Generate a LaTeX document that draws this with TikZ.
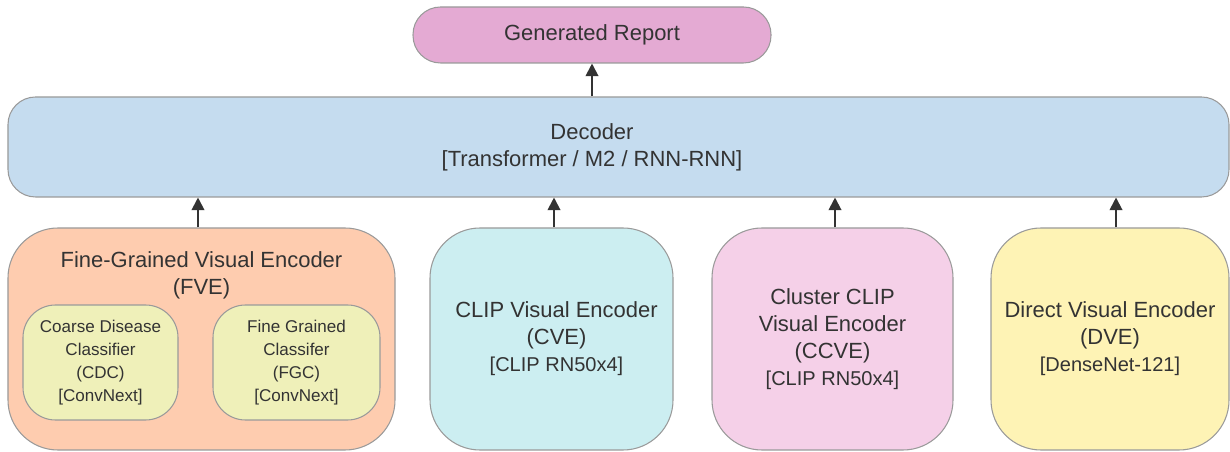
\documentclass[tikz,border=0pt]{standalone}
\usepackage{fontspec}
\setmainfont{Liberation Sans}
\usetikzlibrary{arrows.meta}

\definecolor{reportfill}{HTML}{E4AAD3}
\definecolor{decoderfill}{HTML}{C5DCEF}
\definecolor{fvefill}{HTML}{FECCAF}
\definecolor{subfill}{HTML}{EFF0B9}
\definecolor{cvefill}{HTML}{CCEEF1}
\definecolor{ccvefill}{HTML}{F5D0E8}
\definecolor{dvefill}{HTML}{FEF3B5}
\definecolor{edgegray}{HTML}{9A9A9A}
\definecolor{textgray}{HTML}{333333}

% backbone names are set a bit smaller
\newcommand{\backbone}[1]{{\fontsize{11.4}{15.4}\selectfont[#1]}}

\begin{document}
\begin{tikzpicture}[
	box/.style={draw=edgegray, line width=0.6pt, text=textgray, align=center,
		inner sep=0pt, font=\fontsize{12.5}{15.4}\selectfont},
	caption/.style={text=textgray, align=center, font=\fontsize{12.5}{15.4}\selectfont},
	encoder/.style={box, minimum height=4.44cm, rounded corners=1cm},
	subbox/.style={box, fill=subfill, minimum height=2.3cm, rounded corners=0.65cm,
		font=\fontsize{9.7}{13.1}\selectfont},
	flow/.style={draw=textgray, line width=1.1pt, -{Triangle[length=0.25cm,width=0.25cm]}}
	]
	\useasboundingbox (0,0) rectangle (24.6,9.04);

	% output and decoder
	\node[box, fill=reportfill, minimum width=7.16cm, minimum height=1.12cm, rounded corners=0.55cm] (report) at (11.84,8.34) {Generated Report};
	\node[box, fill=decoderfill, minimum width=24.42cm, minimum height=2cm, rounded corners=0.55cm] (decoder) at (12.37,6.10) {};
	\node[caption] (dectext) at (decoder.center -| report.center) {Decoder\\{[Transformer / M2 / RNN-RNN]}};

	% the four encoders
	\node[encoder, fill=fvefill, minimum width=7.74cm] (fve) at (4.03,2.26) {};
	\node[caption] (fvetitle) at ([yshift=-0.95cm]fve.north) {Fine-Grained Visual Encoder\\(FVE)};
	\node[subbox, minimum width=3.1cm] (cdc) at (2.01,1.79) {Coarse Disease\\Classifier\\(CDC)\\{[ConvNext]}};
	\node[subbox, minimum width=3.34cm] (fgc) at (5.93,1.79) {Fine Grained\\Classifer\\(FGC)\\{[ConvNext]}};

	\node[encoder, fill=cvefill, minimum width=4.86cm] (cve) at (11.03,2.26) {};
	\node[caption] at ([xshift=0.1cm]cve.center) {CLIP Visual Encoder\\(CVE)\\\backbone{CLIP RN50x4}};
	\node[encoder, fill=ccvefill, minimum width=4.82cm] (ccve) at (16.65,2.26) {Cluster CLIP\\Visual Encoder\\(CCVE)\\\backbone{CLIP RN50x4}};
	\node[encoder, fill=dvefill, minimum width=4.76cm] (dve) at (22.2,2.26) {Direct Visual Encoder\\(DVE)\\\backbone{DenseNet-121}};

	% arrows
	\draw[flow] (decoder.north -| report.south) -- (report.south);
	\draw[flow] ([xshift=-0.07cm]fve.north) -- ([xshift=-0.07cm]fve.north |- decoder.south);
	\draw[flow] ([xshift=0.05cm]cve.north) -- ([xshift=0.05cm]cve.north |- decoder.south);
	\draw[flow] ([xshift=0.05cm]ccve.north) -- ([xshift=0.05cm]ccve.north |- decoder.south);
	\draw[flow] ([xshift=0.12cm]dve.north) -- ([xshift=0.12cm]dve.north |- decoder.south);
\end{tikzpicture}
\end{document}
